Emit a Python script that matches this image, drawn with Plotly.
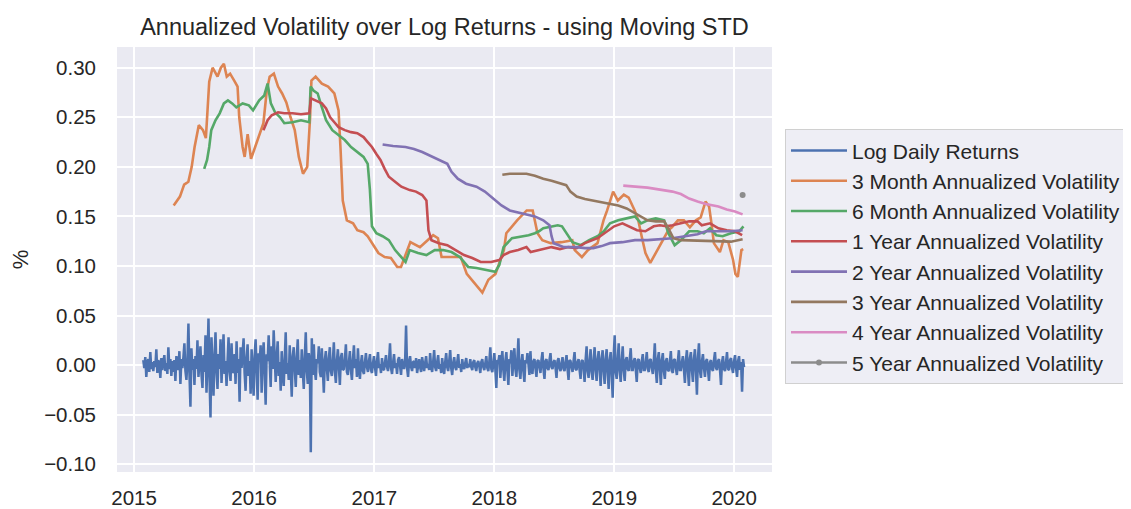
import pandas as pd
import plotly.graph_objects as go

# ---------------- data ----------------
# Log daily returns, sampled ~10 values per month from Feb 2015 to Jan 2020
log_returns = [
    0.005, -0.003, 0.008, -0.012, 0.002, 0.006, -0.007, 0.013, -0.004, 0.003,
    -0.006, 0.004, -0.002, 0.016, -0.008, 0.005, 0.001, -0.013, 0.007, -0.005,
    0.003, 0.010, -0.006, 0.002, -0.009, 0.018, -0.004, 0.006, -0.011, 0.004,
    -0.007, 0.005, -0.016, 0.009, 0.002, -0.005, 0.014, -0.019, 0.006, -0.003,
    0.008, 0.022, -0.006, -0.015, 0.004, 0.042, -0.008, -0.042, 0.017, -0.005,
    0.006, -0.020, 0.009, -0.004, 0.025, -0.012, 0.003, 0.019, -0.009, -0.023,
    0.010, -0.007, 0.030, -0.028, 0.005, 0.047, -0.012, -0.053, 0.028, -0.009,
    -0.031, 0.008, 0.033, -0.006, -0.024, 0.011, -0.004, 0.026, -0.018, 0.007,
    0.031, -0.009, 0.004, -0.021, 0.012, 0.028, -0.006, -0.016, 0.022, -0.008,
    -0.005, 0.011, -0.019, 0.024, -0.008, 0.006, -0.037, 0.018, -0.003, 0.010,
    0.027, -0.008, -0.026, 0.007, 0.021, -0.011, 0.004, -0.029, 0.016, -0.006,
    -0.031, 0.009, 0.026, -0.005, -0.035, 0.012, 0.003, 0.020, -0.028, 0.008,
    0.023, -0.007, -0.040, 0.011, 0.004, 0.030, -0.009, -0.022, 0.019, -0.004,
    0.035, -0.006, -0.017, 0.008, 0.024, -0.011, 0.003, -0.026, 0.014, -0.007,
    -0.021, 0.006, 0.033, -0.009, 0.002, -0.015, 0.020, -0.005, -0.032, 0.009,
    0.018, -0.004, -0.022, 0.007, 0.026, -0.010, 0.005, -0.013, 0.016, -0.006,
    -0.024, 0.008, 0.033, -0.006, -0.019, 0.012, 0.004, -0.088, 0.027, -0.010,
    0.021, -0.005, -0.015, 0.006, 0.002, 0.019, -0.007, -0.012, 0.017, -0.004,
    -0.028, 0.005, 0.014, -0.003, -0.016, 0.007, 0.018, -0.006, -0.011, 0.004,
    0.023, -0.006, -0.018, 0.004, 0.016, -0.002, -0.020, 0.008, 0.012, -0.005,
    -0.004, 0.006, 0.021, -0.007, -0.010, 0.003, 0.014, -0.005, -0.015, 0.005,
    0.020, -0.003, 0.006, -0.012, 0.017, -0.004, -0.014, 0.002, 0.010, -0.006,
    -0.009, 0.003, 0.012, -0.002, -0.007, 0.004, 0.011, -0.005, -0.008, 0.002,
    0.009, -0.002, -0.011, 0.004, 0.013, -0.003, 0.001, -0.008, 0.007, -0.004,
    -0.005, 0.003, 0.010, -0.002, -0.006, 0.004, 0.022, -0.003, -0.009, 0.002,
    0.011, -0.003, 0.002, -0.009, 0.005, 0.008, -0.004, -0.010, 0.006, -0.002,
    -0.004, 0.002, 0.040, -0.003, -0.012, 0.004, 0.009, -0.002, -0.006, 0.003,
    0.004, -0.003, 0.007, -0.008, 0.002, 0.006, -0.002, -0.007, 0.008, -0.003,
    -0.006, 0.002, 0.009, -0.003, 0.001, -0.005, 0.012, -0.002, -0.007, 0.003,
    0.015, -0.002, -0.006, 0.003, 0.010, -0.004, 0.001, -0.008, 0.007, -0.003,
    -0.009, 0.003, 0.012, -0.002, -0.006, 0.004, 0.015, -0.003, -0.010, 0.002,
    0.008, -0.002, -0.005, 0.003, 0.011, -0.003, 0.001, -0.007, 0.006, -0.002,
    -0.004, 0.002, 0.007, -0.003, 0.001, -0.002, 0.006, -0.002, -0.005, 0.003,
    0.005, -0.002, -0.006, 0.002, 0.004, -0.001, -0.008, 0.003, 0.006, -0.002,
    -0.005, 0.002, 0.009, -0.003, -0.006, 0.003, 0.018, -0.004, -0.007, 0.002,
    0.012, -0.004, -0.023, 0.005, 0.003, 0.010, -0.013, 0.004, 0.014, -0.005,
    -0.016, 0.004, 0.013, -0.005, -0.020, 0.006, 0.002, 0.015, -0.011, 0.005,
    0.017, -0.004, -0.012, 0.006, 0.027, -0.005, -0.014, 0.003, 0.011, -0.006,
    -0.017, 0.005, 0.002, 0.012, -0.004, -0.010, 0.014, -0.005, -0.009, 0.004,
    0.006, -0.003, -0.012, 0.004, 0.005, -0.002, -0.008, 0.005, 0.013, -0.004,
    -0.014, 0.004, 0.006, -0.003, -0.005, 0.005, 0.012, -0.002, -0.004, 0.003,
    0.005, -0.002, -0.013, 0.004, 0.007, -0.003, -0.006, 0.002, 0.008, -0.004,
    -0.006, 0.003, 0.010, -0.004, -0.015, 0.005, 0.004, -0.002, -0.007, 0.004,
    0.013, -0.004, -0.005, 0.003, 0.006, -0.005, -0.014, 0.004, 0.005, -0.003,
    -0.017, 0.005, 0.019, -0.006, -0.013, 0.004, 0.016, -0.007, -0.015, 0.005,
    0.018, -0.005, -0.016, 0.006, 0.014, -0.004, -0.021, 0.007, 0.015, -0.006,
    -0.019, 0.006, 0.016, -0.007, -0.024, 0.005, 0.013, -0.008, -0.033, 0.009,
    0.030, -0.007, -0.014, 0.005, 0.022, -0.006, -0.017, 0.004, 0.019, -0.005,
    -0.016, 0.005, 0.008, -0.004, -0.006, 0.006, 0.017, -0.005, -0.005, 0.004,
    0.007, -0.004, -0.017, 0.005, 0.006, -0.003, -0.008, 0.004, 0.011, -0.005,
    -0.005, 0.003, 0.013, -0.004, -0.007, 0.005, 0.006, -0.003, -0.009, 0.004,
    0.022, -0.005, -0.018, 0.006, 0.013, -0.004, -0.020, 0.005, 0.012, -0.006,
    -0.014, 0.004, 0.007, -0.005, -0.006, 0.003, 0.014, -0.006, -0.008, 0.005,
    0.006, -0.003, -0.010, 0.004, 0.015, -0.005, -0.005, 0.003, 0.009, -0.004,
    -0.018, 0.005, 0.015, -0.006, -0.021, 0.007, 0.013, -0.005, -0.017, 0.006,
    0.016, -0.005, -0.030, 0.007, 0.022, -0.006, -0.013, 0.004, 0.011, -0.003,
    -0.012, 0.004, 0.006, -0.005, -0.016, 0.003, 0.005, -0.004, -0.006, 0.005,
    0.013, -0.003, -0.005, 0.004, 0.006, -0.005, -0.020, 0.003, 0.009, -0.004,
    -0.006, 0.003, 0.013, -0.004, -0.005, 0.005, 0.007, -0.003, -0.008, 0.004,
    0.010, -0.003, -0.012, 0.004, 0.009, -0.005, 0.003, -0.027, 0.006, -0.002,
]
returns_start = "2015-01-29"
returns_end = "2020-01-31"

# Rolling annualized volatilities: (decimal year, value)
vol_3m_t = [2015.330, 2015.382, 2015.417, 2015.452, 2015.480, 2015.504, 2015.539, 2015.574,
            2015.598, 2015.626, 2015.654, 2015.695, 2015.723, 2015.748, 2015.772, 2015.800,
            2015.834, 2015.862, 2015.876, 2015.904, 2015.921, 2015.946, 2015.974, 2016.008,
            2016.043, 2016.078, 2016.106, 2016.130, 2016.165, 2016.200, 2016.234, 2016.269,
            2016.304, 2016.339, 2016.373, 2016.408, 2016.443, 2016.467, 2016.478, 2016.513,
            2016.565, 2016.617, 2016.669, 2016.704, 2016.721, 2016.739, 2016.773, 2016.825,
            2016.860, 2016.912, 2016.947, 2016.982, 2017.034, 2017.086, 2017.138, 2017.191,
            2017.222, 2017.300, 2017.380, 2017.490, 2017.530, 2017.560, 2017.720, 2017.770,
            2017.830, 2017.900, 2017.950, 2018.010, 2018.080, 2018.100, 2018.190, 2018.270,
            2018.320, 2018.360, 2018.400, 2018.470, 2018.560, 2018.650, 2018.670, 2018.690,
            2018.730, 2018.780, 2018.860, 2018.910, 2018.940, 2018.990, 2019.030, 2019.080,
            2019.120, 2019.170, 2019.200, 2019.230, 2019.260, 2019.300, 2019.350, 2019.400,
            2019.450, 2019.480, 2019.530, 2019.580, 2019.630, 2019.680, 2019.720, 2019.760,
            2019.790, 2019.810, 2019.830, 2019.880, 2019.910, 2019.950, 2019.990, 2020.010,
            2020.030, 2020.060, 2020.075]
vol_3m_v = [0.161, 0.170, 0.182, 0.185, 0.200, 0.220, 0.242, 0.237,
            0.229, 0.286, 0.300, 0.291, 0.300, 0.304, 0.291, 0.294,
            0.287, 0.281, 0.250, 0.220, 0.210, 0.233, 0.208, 0.220,
            0.233, 0.244, 0.277, 0.291, 0.294, 0.281, 0.274, 0.265,
            0.250, 0.237, 0.210, 0.193, 0.200, 0.250, 0.287, 0.291,
            0.284, 0.281, 0.274, 0.257, 0.217, 0.166, 0.146, 0.143,
            0.136, 0.134, 0.130, 0.123, 0.113, 0.109, 0.108, 0.099,
            0.099, 0.124, 0.119, 0.131, 0.128, 0.109, 0.109, 0.092,
            0.083, 0.073, 0.086, 0.092, 0.116, 0.133, 0.146, 0.156,
            0.156, 0.133, 0.126, 0.123, 0.124, 0.126, 0.116, 0.114,
            0.109, 0.116, 0.123, 0.146, 0.156, 0.175, 0.166, 0.172,
            0.169, 0.156, 0.146, 0.129, 0.113, 0.103, 0.114, 0.126,
            0.136, 0.139, 0.146, 0.146, 0.139, 0.146, 0.149, 0.165,
            0.160, 0.143, 0.123, 0.114, 0.126, 0.124, 0.106, 0.092,
            0.089, 0.116, 0.117]

vol_6m_t = [2015.584, 2015.608, 2015.626, 2015.643, 2015.678, 2015.713, 2015.748, 2015.782,
            2015.817, 2015.852, 2015.904, 2015.956, 2015.991, 2016.043, 2016.085, 2016.113,
            2016.140, 2016.175, 2016.217, 2016.252, 2016.321, 2016.391, 2016.460, 2016.471,
            2016.495, 2016.530, 2016.565, 2016.600, 2016.652, 2016.704, 2016.756, 2016.808,
            2016.860, 2016.912, 2016.947, 2016.965, 2016.982, 2017.017, 2017.069, 2017.121,
            2017.173, 2017.225, 2017.260, 2017.295, 2017.364, 2017.434, 2017.503, 2017.573,
            2017.643, 2017.712, 2017.782, 2017.851, 2017.921, 2018.008, 2018.042, 2018.077,
            2018.147, 2018.234, 2018.286, 2018.338, 2018.372, 2018.408, 2018.477, 2018.529,
            2018.564, 2018.599, 2018.651, 2018.721, 2018.790, 2018.860, 2018.912, 2018.964,
            2019.033, 2019.103, 2019.172, 2019.224, 2019.277, 2019.346, 2019.416, 2019.451,
            2019.503, 2019.555, 2019.624, 2019.694, 2019.746, 2019.798, 2019.850, 2019.903,
            2019.972, 2020.042, 2020.077]
vol_6m_v = [0.198, 0.207, 0.220, 0.237, 0.247, 0.254, 0.264, 0.267,
            0.264, 0.260, 0.264, 0.262, 0.257, 0.267, 0.272, 0.284,
            0.264, 0.255, 0.250, 0.244, 0.245, 0.247, 0.245, 0.281,
            0.277, 0.274, 0.260, 0.247, 0.237, 0.232, 0.227, 0.220,
            0.215, 0.210, 0.203, 0.177, 0.140, 0.133, 0.130, 0.126,
            0.116, 0.109, 0.104, 0.116, 0.113, 0.111, 0.116, 0.116,
            0.114, 0.109, 0.099, 0.098, 0.096, 0.094, 0.101, 0.119,
            0.128, 0.130, 0.131, 0.133, 0.135, 0.138, 0.140, 0.141,
            0.140, 0.133, 0.124, 0.121, 0.126, 0.130, 0.135, 0.143,
            0.146, 0.148, 0.150, 0.143, 0.146, 0.148, 0.146, 0.133,
            0.121, 0.126, 0.135, 0.135, 0.133, 0.138, 0.131, 0.130,
            0.133, 0.135, 0.140]

vol_1y_t = [2016.078, 2016.113, 2016.147, 2016.200, 2016.252, 2016.321, 2016.391, 2016.460,
            2016.474, 2016.513, 2016.565, 2016.600, 2016.634, 2016.669, 2016.704, 2016.756,
            2016.808, 2016.860, 2016.912, 2016.947, 2016.982, 2017.017, 2017.051, 2017.086,
            2017.121, 2017.173, 2017.225, 2017.295, 2017.347, 2017.399, 2017.434, 2017.451,
            2017.476, 2017.538, 2017.608, 2017.677, 2017.747, 2017.816, 2017.886, 2017.973,
            2018.042, 2018.077, 2018.129, 2018.199, 2018.268, 2018.303, 2018.373, 2018.477,
            2018.547, 2018.616, 2018.686, 2018.755, 2018.860, 2018.929, 2018.999, 2019.068,
            2019.120, 2019.190, 2019.259, 2019.329, 2019.381, 2019.433, 2019.485, 2019.555,
            2019.624, 2019.694, 2019.729, 2019.798, 2019.868, 2019.937, 2020.007, 2020.066]
vol_1y_v = [0.237, 0.247, 0.252, 0.255, 0.254, 0.254, 0.253, 0.254,
            0.269, 0.267, 0.264, 0.259, 0.250, 0.245, 0.240, 0.237,
            0.235, 0.234, 0.230, 0.225, 0.220, 0.213, 0.207, 0.198,
            0.190, 0.185, 0.180, 0.1765, 0.175, 0.1715, 0.166, 0.136,
            0.126, 0.123, 0.121, 0.116, 0.111, 0.108, 0.104, 0.104,
            0.106, 0.111, 0.114, 0.116, 0.119, 0.114, 0.116, 0.119,
            0.117, 0.119, 0.118, 0.123, 0.128, 0.134, 0.140, 0.143,
            0.140, 0.136, 0.135, 0.140, 0.141, 0.140, 0.141, 0.143,
            0.145, 0.145, 0.141, 0.143, 0.138, 0.136, 0.135, 0.131]

vol_2y_t = [2017.069, 2017.156, 2017.260, 2017.330, 2017.399, 2017.469, 2017.538, 2017.608,
            2017.643, 2017.695, 2017.764, 2017.851, 2017.921, 2017.990, 2018.060, 2018.129,
            2018.199, 2018.268, 2018.338, 2018.408, 2018.460, 2018.477, 2018.494, 2018.581,
            2018.686, 2018.755, 2018.825, 2018.894, 2018.964, 2019.068, 2019.172, 2019.277,
            2019.381, 2019.485, 2019.590, 2019.694, 2019.763, 2019.868, 2019.972, 2020.070]
vol_2y_v = [0.2225, 0.221, 0.220, 0.218, 0.215, 0.211, 0.207, 0.203,
            0.195, 0.188, 0.183, 0.180, 0.175, 0.168, 0.161, 0.156,
            0.154, 0.152, 0.150, 0.146, 0.141, 0.130, 0.123, 0.119,
            0.119, 0.118, 0.118, 0.120, 0.123, 0.124, 0.126, 0.126,
            0.127, 0.128, 0.130, 0.132, 0.135, 0.135, 0.135, 0.136]

vol_3y_t = [2018.067, 2018.129, 2018.199, 2018.268, 2018.338, 2018.408, 2018.477, 2018.547,
            2018.599, 2018.634, 2018.686, 2018.755, 2018.825, 2018.894, 2018.964, 2019.033,
            2019.103, 2019.172, 2019.224, 2019.277, 2019.346, 2019.416, 2019.451, 2019.492,
            2019.555, 2019.659, 2019.763, 2019.868, 2019.972, 2020.070]
vol_3y_v = [0.192, 0.193, 0.193, 0.193, 0.191, 0.188, 0.186, 0.183,
            0.1815, 0.175, 0.170, 0.1675, 0.166, 0.1645, 0.163, 0.161,
            0.158, 0.153, 0.150, 0.146, 0.145, 0.145, 0.138, 0.128,
            0.126, 0.1255, 0.1255, 0.1245, 0.1245, 0.127]

vol_4y_t = [2019.075, 2019.172, 2019.277, 2019.381, 2019.485, 2019.555, 2019.624, 2019.694,
            2019.763, 2019.868, 2019.937, 2020.007, 2020.070]
vol_4y_v = [0.181, 0.180, 0.179, 0.177, 0.175, 0.1725, 0.168, 0.165,
            0.1625, 0.160, 0.157, 0.155, 0.152]

vol_5y_t = [2020.070]
vol_5y_v = [0.1715]

series_names = [
    "Log Daily Returns",
    "3 Month Annualized Volatility",
    "6 Month Annualized Volatility",
    "1 Year Annualized Volatility",
    "2 Year Annualized Volatility",
    "3 Year Annualized Volatility",
    "4 Year Annualized Volatility",
    "5 Year Annualized Volatility",
]
colors = ["#4C72B0", "#DD8452", "#55A868", "#C44E52", "#8172B3", "#937860", "#DA8BC3", "#8C8C8C"]

title_text = "Annualized Volatility over Log Returns - using Moving STD"
y_label = "%"
year_ticks = ["2015", "2016", "2017", "2018", "2019", "2020"]


# ---------------- helpers ----------------
def to_dates(years):
    out = []
    for y in years:
        yr = int(y)
        out.append(pd.Timestamp(year=yr, month=1, day=1) + pd.Timedelta(days=(y - yr) * 365.25))
    return out


FONT = "Liberation Sans, Arial, Helvetica, sans-serif"
TXT = "#262626"
LW = 2.6

fig = go.Figure()

ret_dates = pd.date_range(returns_start, returns_end, periods=len(log_returns))
fig.add_trace(go.Scatter(x=ret_dates, y=log_returns, mode="lines", name=series_names[0],
                         line=dict(color=colors[0], width=2.5)))

vols = [(vol_3m_t, vol_3m_v), (vol_6m_t, vol_6m_v), (vol_1y_t, vol_1y_v), (vol_2y_t, vol_2y_v),
        (vol_3y_t, vol_3y_v), (vol_4y_t, vol_4y_v)]
for i, (t, v) in enumerate(vols, start=1):
    fig.add_trace(go.Scatter(x=to_dates(t), y=v, mode="lines", name=series_names[i],
                             line=dict(color=colors[i], width=LW)))

fig.add_trace(go.Scatter(x=to_dates(vol_5y_t), y=vol_5y_v, mode="lines+markers", name=series_names[7],
                         line=dict(color=colors[7], width=LW),
                         marker=dict(color=colors[7], size=6)))

# The page body adds an 8px offset; the figure is sized/positioned to compensate.
OFF = 8
PAGE_W, PAGE_H = 1131, 509
W, H = PAGE_W - OFF, PAGE_H - OFF
L, R, T, B = 117, 772, 46.7, 472  # plot area in page pixels

fig.update_layout(
    width=W, height=H,
    margin=dict(l=L - OFF, r=PAGE_W - R, t=T - OFF, b=PAGE_H - B, autoexpand=False),
    paper_bgcolor="white",
    plot_bgcolor="#EAEAF2",
    font=dict(family=FONT, color=TXT, size=20.5),
    title=dict(text=title_text, font=dict(family=FONT, size=23.5, color=TXT),
               x=((L + R) / 2 - OFF) / W, xanchor="center", xref="container",
               y=1 - (27 - OFF) / H, yanchor="middle", yref="container"),
    showlegend=True,
    legend=dict(
        x=(785 - L) / (R - L), xanchor="left",
        y=(B - 129) / (B - T), yanchor="top",
        bgcolor="rgba(238,238,245,1)",
        bordercolor="#D0D0D0", borderwidth=1,
        font=dict(family=FONT, size=21, color=TXT),
        itemwidth=56,
        tracegroupgap=0,
    ),
    hovermode=False,
)

fig.update_xaxes(
    type="date",
    range=[pd.Timestamp("2014-11-10"), pd.Timestamp("2020-04-25")],
    tickvals=[pd.Timestamp(f"{y}-01-01") for y in year_ticks],
    ticktext=year_ticks,
    showgrid=True, gridcolor="white", gridwidth=1.7,
    zeroline=False, showline=False, ticks="",
    ticklabelstandoff=11,
    tickfont=dict(family=FONT, size=20.5, color=TXT),
)
fig.update_yaxes(
    range=[-0.1079, 0.3209],
    tick0=0, dtick=0.05, tickformat=".2f",
    showgrid=True, gridcolor="white", gridwidth=1.7,
    zeroline=False, showline=False, ticks="",
    ticklabelstandoff=20,
    tickfont=dict(family=FONT, size=20.5, color=TXT),
    title=dict(text=y_label, font=dict(family=FONT, size=22, color=TXT), standoff=9),
)

fig.write_html("out.html")
